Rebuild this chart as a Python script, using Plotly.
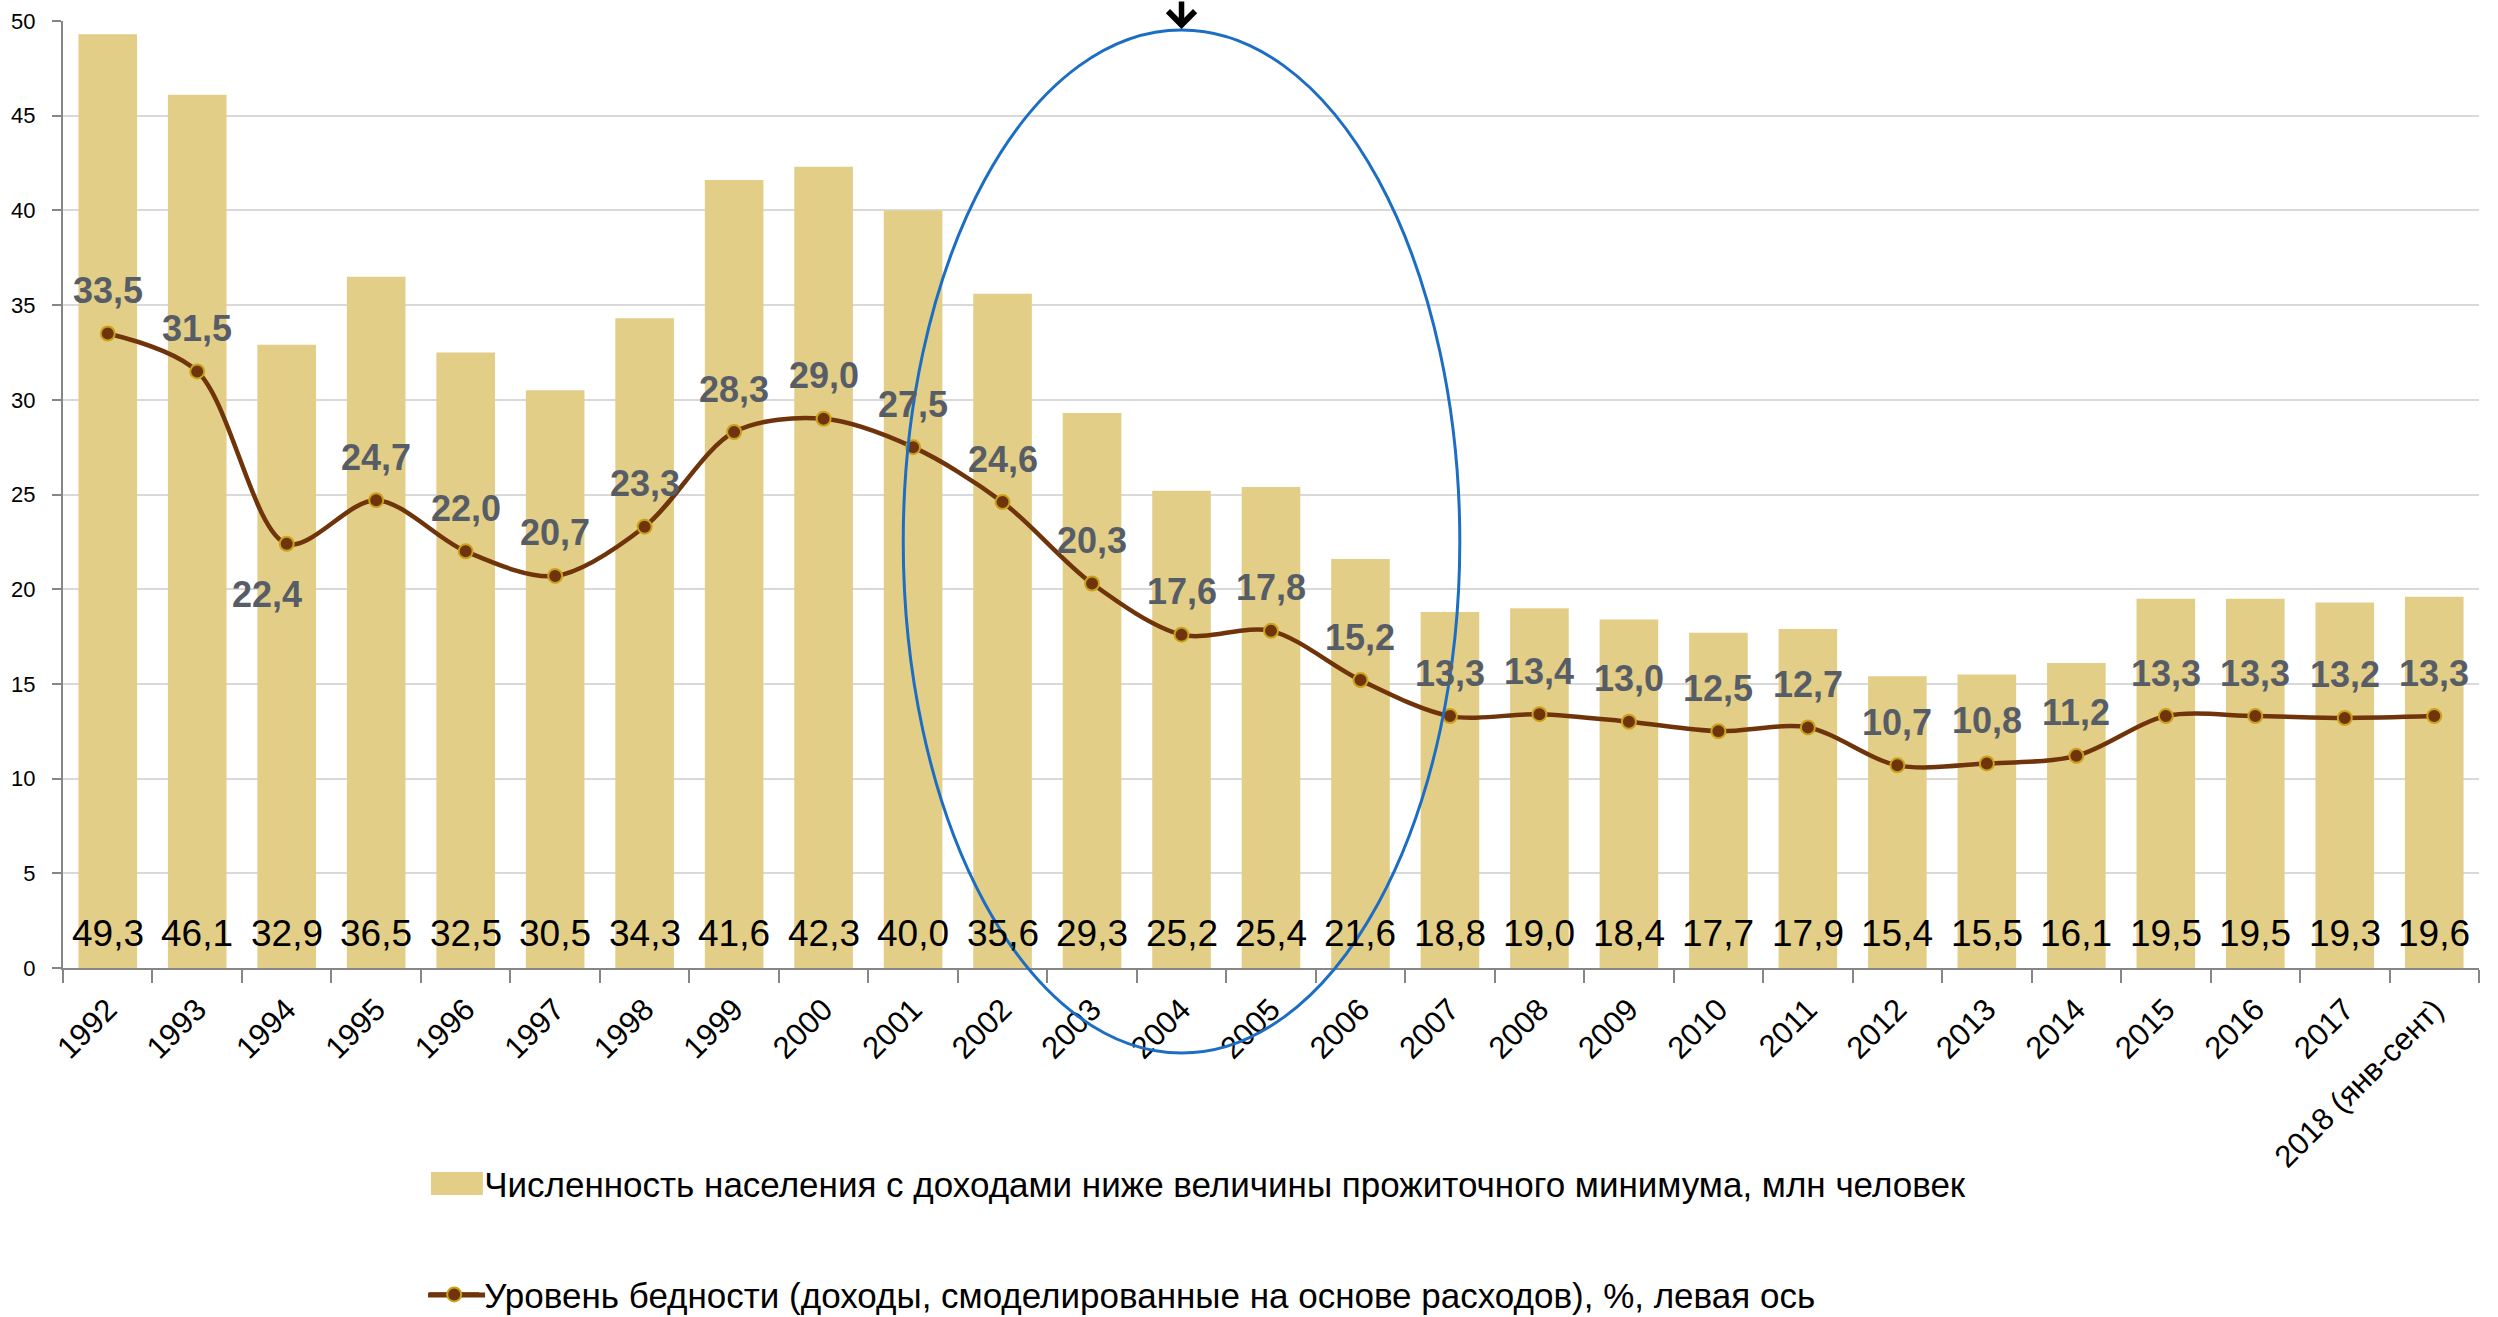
import plotly.graph_objects as go

# ---- data ----
categories = ["1992", "1993", "1994", "1995", "1996", "1997", "1998", "1999", "2000",
              "2001", "2002", "2003", "2004", "2005", "2006", "2007", "2008", "2009",
              "2010", "2011", "2012", "2013", "2014", "2015", "2016", "2017",
              "2018 (янв-сент)"]
population_mln = [49.3, 46.1, 32.9, 36.5, 32.5, 30.5, 34.3, 41.6, 42.3, 40.0, 35.6,
                  29.3, 25.2, 25.4, 21.6, 18.8, 19.0, 18.4, 17.7, 17.9, 15.4, 15.5,
                  16.1, 19.5, 19.5, 19.3, 19.6]
poverty_rate = [33.5, 31.5, 22.4, 24.7, 22.0, 20.7, 23.3, 28.3, 29.0, 27.5, 24.6,
                20.3, 17.6, 17.8, 15.2, 13.3, 13.4, 13.0, 12.5, 12.7, 10.7, 10.8,
                11.2, 13.3, 13.3, 13.2, 13.3]
y_ticks = [0, 5, 10, 15, 20, 25, 30, 35, 40, 45, 50]

bar_name = "Численность населения с доходами ниже величины прожиточного минимума, млн человек"
line_name = "Уровень бедности (доходы, смоделированные на основе расходов), %, левая ось"
highlight_category = "2004"

# ---- styles ----
FONT = "Liberation Sans, Arial, sans-serif"
BAR_COLOR = "#E3CE87"
LINE_COLOR = "#70340A"
MARKER_EDGE = "#C9A31A"
LABEL_GRAY = "#575D66"
AXIS_COLOR = "#868686"
GRID_COLOR = "#D9D9D9"
ELLIPSE_COLOR = "#1C6EC5"


def fmt(v):
    return f"{v:.1f}".replace(".", ",")


pos = list(range(len(categories)))  # category slots on the x axis

fig = go.Figure()

fig.add_trace(go.Bar(
    x=pos, y=population_mln, name=bar_name,
    marker=dict(color=BAR_COLOR, line=dict(width=0)),
    legend="legend", customdata=categories,
    hovertemplate="%{customdata}: %{y}<extra></extra>",
))

fig.add_trace(go.Scatter(
    x=pos, y=poverty_rate, name=line_name, mode="lines+markers",
    line=dict(color=LINE_COLOR, width=4.5, shape="spline", smoothing=0.9),
    marker=dict(size=14, color=LINE_COLOR, line=dict(color=MARKER_EDGE, width=2)),
    legend="legend2", cliponaxis=False, customdata=categories,
    hovertemplate="%{customdata}: %{y}<extra></extra>",
))

annotations = []
# bar value labels near the base of each bar
for p, v in zip(pos, population_mln):
    annotations.append(dict(
        x=p, y=0, xref="x", yref="y", text=fmt(v), showarrow=False,
        yanchor="middle", yshift=35,
        font=dict(family=FONT, size=37, color="#000000"),
    ))
# line value labels
for p, c, v in zip(pos, categories, poverty_rate):
    below = (c == "1994")
    annotations.append(dict(
        x=p, y=v, xref="x", yref="y", text=fmt(v), showarrow=False,
        yanchor="middle", yshift=-51 if below else 43, xshift=-20 if below else 0,
        font=dict(family=FONT, size=36, color=LABEL_GRAY, weight="bold"),
    ))

hi = categories.index(highlight_category)
# arrow pointing at the highlighted area
annotations.append(dict(
    x=hi, y=0.9916, xref="x", yref="paper", text="",
    showarrow=True, ax=0, ay=-45, arrowhead=4, arrowsize=0.95, arrowwidth=5.5,
    arrowcolor="#000000", standoff=0,
))

shapes = [
    # highlight ellipse
    dict(type="circle", xref="x", yref="paper",
         x0=hi - 3.11, x1=hi + 3.11, y0=-0.0898, y1=0.9905,
         line=dict(color=ELLIPSE_COLOR, width=3), fillcolor="rgba(0,0,0,0)",
         layer="above"),
    # enlarged legend key for the bars (behind the legend's own key)
    dict(type="rect", xref="paper", yref="paper",
         x0=0.1523, x1=0.1738, y0=-0.2397, y1=-0.2154,
         line=dict(width=0), fillcolor=BAR_COLOR, layer="above"),
    # longer legend key line for the poverty-rate series
    dict(type="line", xref="paper", yref="paper",
         x0=0.1511, x1=0.1747, y0=-0.3453, y1=-0.3453,
         line=dict(color=LINE_COLOR, width=5), layer="above"),
]

fig.update_layout(
    width=2498, height=1317, autosize=False,
    margin=dict(l=63, r=19, t=21, b=349, autoexpand=False),
    paper_bgcolor="white", plot_bgcolor="white",
    font=dict(family=FONT, color="#000000"),
    bargap=0.345,
    showlegend=True,
    legend=dict(
        x=0.1495, y=-0.228, xanchor="left", yanchor="middle",
        font=dict(family=FONT, size=35, color="#000000"),
        itemwidth=50, bgcolor="rgba(0,0,0,0)",
    ),
    legend2=dict(
        x=0.1495, y=-0.345, xanchor="left", yanchor="middle",
        font=dict(family=FONT, size=35, color="#000000"),
        itemwidth=50, bgcolor="rgba(0,0,0,0)",
    ),
    annotations=annotations,
    shapes=shapes,
    xaxis=dict(
        range=[-0.5, len(categories) - 0.5], automargin=False,
        tickmode="array", tickvals=pos, ticktext=categories, tickangle=-45,
        ticks="", showline=True, linecolor=AXIS_COLOR, linewidth=2,
        minor=dict(tick0=-0.5, dtick=1, ticks="outside", ticklen=13,
                   tickwidth=2, tickcolor=AXIS_COLOR, showgrid=False),
        showgrid=False, zeroline=False,
        tickfont=dict(family=FONT, size=31, color="#000000"),
        ticklabelstandoff=9,
    ),
    yaxis=dict(
        range=[0, 50], automargin=False,
        tickvals=y_ticks, ticktext=[str(t) for t in y_ticks],
        ticks="outside", ticklen=9, tickwidth=2, tickcolor=AXIS_COLOR,
        showline=True, linecolor=AXIS_COLOR, linewidth=2,
        showgrid=True, gridcolor=GRID_COLOR, gridwidth=2, zeroline=False,
        tickfont=dict(family=FONT, size=22, color="#000000"),
        ticklabelstandoff=12,
    ),
)

fig.write_html("out.html", config={"displayModeBar": False},
               post_script="document.body.style.margin='0';")
